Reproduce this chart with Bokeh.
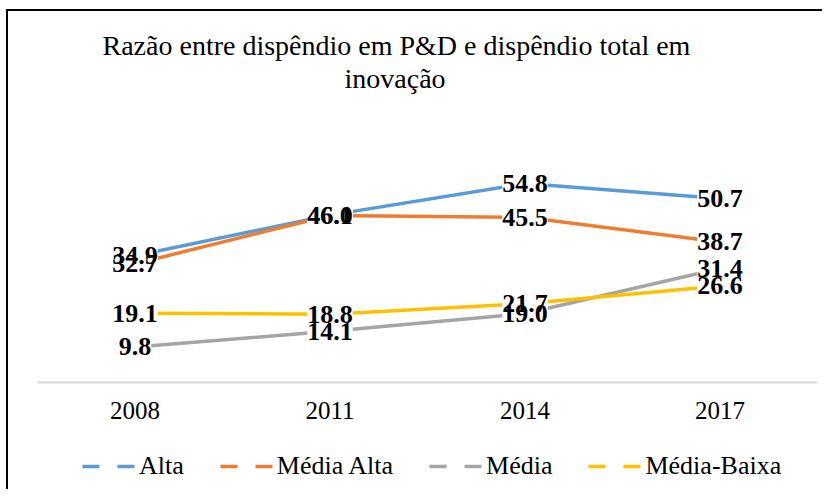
from bokeh.plotting import figure
from bokeh.layouts import column
from bokeh.models import (FactorRange, Range1d, ColumnDataSource, LabelSet, Legend,
                          LegendItem, Title)
from bokeh.embed import file_html
from bokeh.resources import INLINE

# ---- data ----
years = ["2008", "2011", "2014", "2017"]
alta = [34.9, 46.1, 54.8, 50.7]
media_alta = [32.7, 46.0, 45.5, 38.7]
media = [9.8, 14.1, 19.0, 31.4]
media_baixa = [19.1, 18.8, 21.7, 26.6]

series_names = ["Alta", "Média Alta", "Média", "Média-Baixa"]
series_values = [alta, media_alta, media, media_baixa]
colors = ["#5B9BD5", "#ED7D31", "#A5A5A5", "#FFC000"]

title_line1 = "Razão entre dispêndio em P&D e dispêndio total em"
title_line2 = "inovação"

FONT = "Liberation Serif"

# ---------------- main chart ----------------
p = figure(frame_width=780, frame_height=289,
           x_range=FactorRange(*years, range_padding=0),
           y_range=Range1d(0, 79.6), output_backend="svg", toolbar_location=None,
           y_axis_location=None, min_border_left=29, min_border_right=5,
           min_border_top=82, min_border_bottom=45, outline_line_color=None,
           background_fill_color="white", border_fill_color="white")

p.xgrid.visible = False
p.ygrid.visible = False
ax = p.xaxis[0]
ax.axis_line_color = "#D9D9D9"
ax.axis_line_width = 2
ax.major_tick_line_color = None
ax.minor_tick_line_color = None
ax.major_label_text_font = FONT
ax.major_label_text_font_size = "25px"
ax.major_label_text_color = "black"
ax.major_label_standoff = 13

# titles (second line nearest the plot)
t2 = Title(text=title_line2, align="left", offset=307, text_font=FONT,
           text_font_size="28px", text_font_style="normal", text_color="black",
           standoff=0)
t1 = Title(text=title_line1, align="left", offset=65, text_font=FONT,
           text_font_size="28px", text_font_style="normal", text_color="black",
           standoff=0)
p.add_layout(t2, "above")
p.add_layout(t1, "above")

for vals, col in zip(series_values, colors):
    p.line(x=years, y=vals, line_color=col, line_width=3.5, line_cap="round",
           line_join="round")

# label boxes (white) then texts
sources = []
for vals in series_values:
    sources.append(ColumnDataSource(dict(x=years, y=vals,
                                         label=[f"{v:.1f}" for v in vals])))
for src in sources:
    p.add_layout(LabelSet(x="x", y="y", text="label", source=src,
                          text_align="center", text_baseline="middle",
                          text_font=FONT, text_font_size="26px",
                          text_font_style="bold", text_alpha=0,
                          background_fill_color="white"))
for src in sources:
    p.add_layout(LabelSet(x="x", y="y", text="label", source=src,
                          text_align="center", text_baseline="middle",
                          text_font=FONT, text_font_size="26px",
                          text_font_style="bold", text_color="black"))

# ---------------- legend strip ----------------
pl = figure(width=814, height=62, x_range=FactorRange(*years, range_padding=0),
            y_range=Range1d(0, 60), output_backend="svg", toolbar_location=None,
            x_axis_location=None, y_axis_location=None, min_border=0,
            outline_line_color=None, background_fill_color="white",
            border_fill_color="white")
pl.xgrid.visible = False
pl.ygrid.visible = False
items = []
for name, vals, col in zip(series_names, series_values, colors):
    r = pl.line(x=years, y=vals, line_color=col, line_width=3.5, line_dash="17 18",
                visible=False)
    items.append(LegendItem(label=name, renderers=[r]))
legend = Legend(items=items, orientation="horizontal", location=(45, 8),
                glyph_width=54, glyph_height=30, label_standoff=3, spacing=36,
                border_line_color=None, background_fill_alpha=0,
                label_text_font=FONT, label_text_font_size="26px",
                label_text_color="black", margin=0, padding=0)
pl.add_layout(legend, "center")

layout = column(p, pl, spacing=0)
layout.styles = {"margin-left": "6px", "margin-top": "9px",
                 "border-left": "2px solid black", "border-top": "2px solid black"}

open("out.html", "w").write(file_html(layout, INLINE))
